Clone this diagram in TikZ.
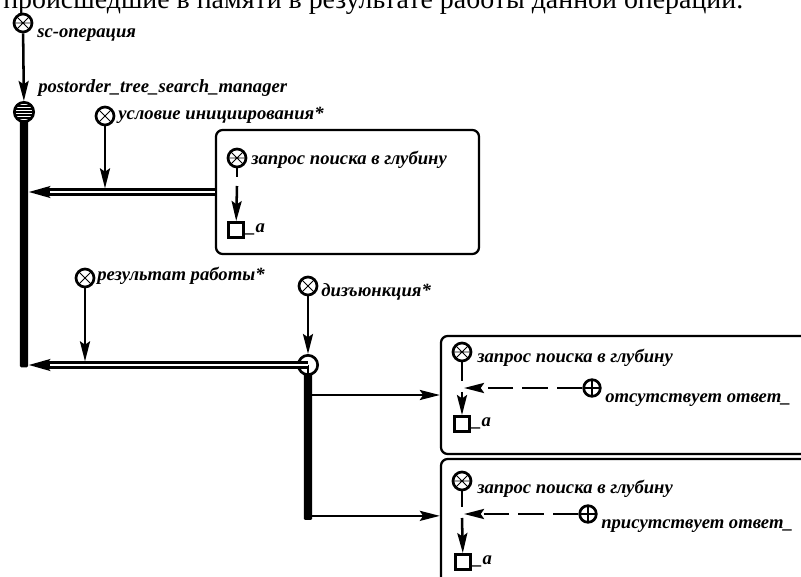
\documentclass[tikz,border=0pt]{standalone}
\usepackage{fontspec}
\usepackage{graphicx}
\setmainfont{Liberation Serif}
\usetikzlibrary{arrows.meta,calc}
\begin{document}
\begin{tikzpicture}[x=0.75pt,y=-0.75pt,
  lbl/.style={font=\fontsize{14pt}{16pt}\selectfont\bfseries\itshape, inner sep=0pt, anchor=base west},
  ln/.style={line width=1.9pt},
  arr/.style={ln, -{Stealth[length=15pt,width=7.5pt,inset=2.5pt]}},
  darr/.style={line width=2.2pt, dash pattern=on 19pt off 7pt, -{Stealth[length=15pt,width=7.5pt,inset=2.5pt]}},
  dbl/.style={line width=5.4pt, -{Stealth[length=16pt,width=8.5pt,inset=3pt]},
    postaction={draw=white, line width=2.2pt, -, shorten >=16pt}},
  circ/.style={circle, draw, line width=2pt, fill=white, minimum size=13.5pt, inner sep=0pt},
  xcirc/.style={circ, path picture={\draw[line width=0.7pt]
      (path picture bounding box.north west) -- (path picture bounding box.south east)
      (path picture bounding box.north east) -- (path picture bounding box.south west);}},
  wheel/.style={circ, path picture={\draw[line width=0.7pt]
      (path picture bounding box.north west) -- (path picture bounding box.south east)
      (path picture bounding box.north east) -- (path picture bounding box.south west)
      (path picture bounding box.west) -- (path picture bounding box.east);}},
  pcirc/.style={circ, minimum size=12.5pt, path picture={\draw[line width=1.4pt]
      (path picture bounding box.north) -- (path picture bounding box.south)
      (path picture bounding box.west) -- (path picture bounding box.east);}},
  striped/.style={circ, minimum size=14.5pt, path picture={\foreach \k in {-3,...,3}{
      \draw[line width=1.3pt] ($(path picture bounding box.center)+(-12,\k*3)$) -- ++(24,0);}}},
  sqr/.style={draw, line width=2.4pt, minimum size=11pt, inner sep=0pt, fill=white},
  boxx/.style={draw, line width=1.7pt, rounded corners=5pt, inner sep=0pt},
  bar/.style={fill=black, draw=none, inner sep=0pt, minimum width=6.3pt, rounded corners=1pt}
]
\clip (0,0) rectangle (801,577);
\fill[white] (0,0) rectangle (801,577);

% top text line (cut off at the top edge, as in the source)
\node[inner sep=0pt, anchor=base west] (top) at (3,9)
  {\resizebox{555pt}{!}{\fontsize{20pt}{24pt}\selectfont происшедшие в памяти в результате работы данной операции.}};

% main bar
\node[bar, minimum height=191pt] (bar1) at (24,240) {};
\node[wheel] (scop) at (23,23) {};
\node[lbl] (scopL) at (37,38) {sc-операция};
\node[striped] (mgr) at (24,112) {};
\node[lbl] (mgrL) at (38,93) {postorder\_tree\_search\_manager};
\draw[arr] (scop) -- (mgr);

% condition
\node[xcirc] (cond) at (105,116) {};
\node[lbl] (condL) at (118,120) {условие инициирования*};

% box 1
\node[boxx, minimum width=197.25pt, minimum height=93pt] (box1) at (347.5,192) {};
\node[wheel] (q1) at (237,158) {};
\node[lbl] (q1L) at (251,165) {запрос поиска в глубину};
\node[sqr] (sq1) at (236,230) {};
\node[lbl] (sq1L) at ($(sq1.east)+(1,3)$) {\_a};
\draw[ln] (q1) -- ($(q1)+(0,19)$);
\draw[arr] ($(q1)+(0,28)$) -- (sq1);
\draw[dbl] (box1.west) -- (bar1.east |- box1.west);
\draw[arr, shorten >=2.7pt] (cond) -- (cond |- box1.west);

% result and disjunction
\node[xcirc] (res) at (85,278) {};
\node[lbl] (resL) at (97,281) {результат работы*};
\node[xcirc] (dis) at (308,286) {};
\node[lbl] (disL) at (321,297) {дизъюнкция*};
\node[bar, minimum height=116.25pt] (bar2) at (308,442.5) {};
\node[circ, minimum size=14.5pt] (junc) at (308,365) {};
\draw[ln] (junc.center) -- (junc.south);
\draw[dbl] (junc.center) -- (bar1.east |- junc.center);
\draw[arr, shorten >=2.7pt] (res) -- (res |- junc.center);
\draw[arr] (dis) -- (junc);

% box 2
\node[boxx, minimum width=291.75pt, minimum height=88.5pt] (box2) at (635.5,395) {};
\node[wheel] (q2) at (462,352) {};
\node[lbl] (q2L) at (477,363) {запрос поиска в глубину};
\node[pcirc] (p2) at (592,388) {};
\node[lbl] (p2L) at (605,403) {отсутствует ответ\_};
\node[sqr] (sq2) at (462,424) {};
\node[lbl] (sq2L) at ($(sq2.east)+(1,3)$) {\_a};
\coordinate (g2) at (q2 |- p2);
\draw[ln] (q2) -- ($(g2)+(0,-7)$);
\draw[darr] (p2) -- ($(g2)+(2,0)$);
\draw[arr] ($(g2)+(0,4)$) -- (sq2);
\draw[arr] (bar2.east |- box2.west) -- (box2.west);

% box 3
\node[boxx, minimum width=291.75pt, minimum height=105.75pt] (box3) at (635.5,529.5) {};
\node[wheel] (q3) at (462,481) {};
\node[lbl] (q3L) at (477,494) {запрос поиска в глубину};
\node[pcirc] (p3) at (588,514) {};
\node[lbl] (p3L) at (601,529) {присутствует ответ\_};
\node[sqr] (sq3) at (463,562) {};
\node[lbl] (sq3L) at ($(sq3.east)+(1,3)$) {\_a};
\coordinate (g3) at (q3 |- p3);
\draw[ln] (q3) -- ($(g3)+(0,-7)$);
\draw[darr] (p3) -- ($(g3)+(2,0)$);
\draw[arr] ($(g3)+(0,4)$) -- (sq3);
\coordinate (b3in) at ($(box3.north west)+(0,58)$);
\draw[arr] (bar2.east |- b3in) -- (b3in);
\end{tikzpicture}
\end{document}
